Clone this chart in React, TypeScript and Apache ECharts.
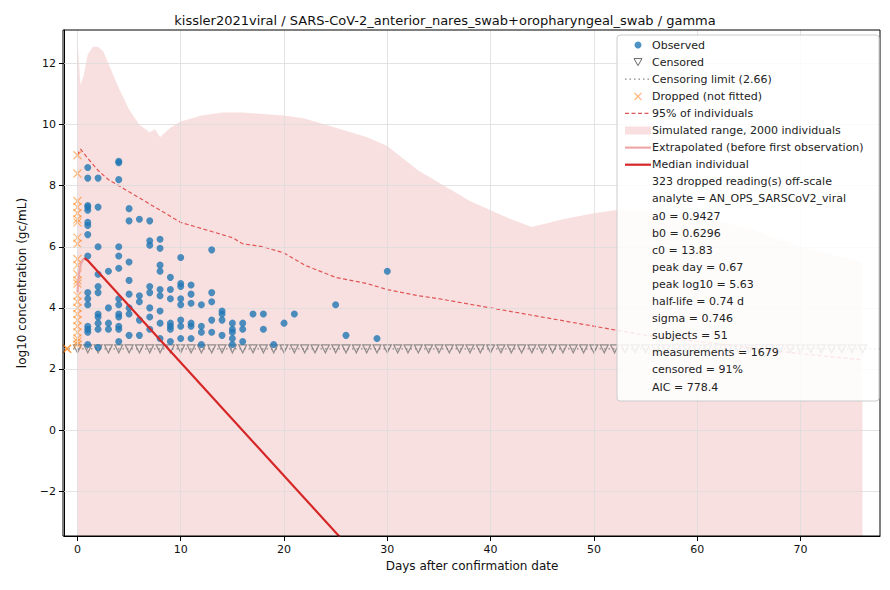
import React, { useEffect, useRef } from "react";
import * as echarts from "echarts";

const obsByDay: [number, number[]][] = [
  [1, [8.6, 8.25, 7.35, 7.3, 7.2, 6.8, 6.7, 6.4, 5.7, 4.5, 4.3, 4.1, 3.4, 3.3, 3.2, 2.8]],
  [2, [8.25, 7.3, 6.0, 5.1, 4.7, 4.5, 3.8, 3.7, 3.5, 3.3, 2.7]],
  [3, [5.2, 4.0, 3.5, 3.3]],
  [4, [8.8, 8.75, 8.2, 6.0, 5.7, 5.3, 4.3, 4.1, 3.8, 3.7, 3.4, 3.3, 2.9]],
  [5, [7.25, 6.85, 5.5, 4.9, 4.45, 4.0, 3.8, 3.1]],
  [6, [6.9, 4.4, 4.2, 3.6, 3.1]],
  [7, [6.85, 6.2, 6.05, 4.7, 4.5, 4.0, 3.7, 3.3]],
  [8, [6.25, 5.95, 5.4, 5.2, 4.6, 4.4, 3.9, 3.5, 3.0]],
  [9, [5.0, 4.6, 4.3, 3.5, 3.4, 3.3, 2.9]],
  [10, [5.65, 4.8, 4.7, 4.3, 4.1, 3.6, 3.4, 3.0]],
  [11, [4.75, 4.45, 4.15, 3.5, 3.4, 3.0]],
  [12, [4.1, 3.4, 3.2, 2.8]],
  [13, [5.9, 4.5, 4.2, 3.6, 3.2]],
  [14, [3.9, 3.8, 3.6, 3.1]],
  [15, [3.5, 3.3, 3.2, 3.0, 2.8]],
  [16, [3.5, 3.3, 2.9]],
  [17, [3.8]],
  [18, [3.8, 3.3]],
  [19, [2.8]],
  [20, [3.5]],
  [21, [3.8]],
  [25, [4.1]],
  [26, [3.1]],
  [29, [3.0]],
  [30, [5.2]],
];
const droppedDay0 = [9.0, 8.4, 7.5, 7.3, 7.1, 6.9, 6.8, 6.3, 6.1, 5.6, 5.4, 5.1, 4.9, 4.8, 4.4, 4.2, 4.0, 3.8, 3.6, 3.4, 3.2, 3.0, 2.9, 2.8];
const droppedOther: [number, number][] = [[-1, 2.66]];
const censorLimit = 2.66;
const censoredDays = Array.from({ length: 77 }, (_, i) => i);
const upperX = [0, 0.3, 0.6, 1, 1.5, 2, 2.5, 3, 4, 5, 6, 7, 7.5, 8, 9, 10, 12, 14, 16, 18, 20, 22, 25, 28, 30, 33, 36, 38, 40, 42, 44, 47, 50, 52, 55, 60, 65, 70, 76];
const upperY = [12.8, 11.3, 11.6, 12.3, 12.55, 12.55, 12.4, 12.0, 11.2, 10.5, 10.0, 9.75, 9.85, 9.6, 9.9, 10.1, 10.3, 10.4, 10.4, 10.35, 10.3, 10.2, 9.9, 9.6, 9.3, 8.5, 7.9, 7.5, 7.2, 6.9, 6.65, 6.9, 7.1, 7.2, 7.2, 7.0, 6.6, 6.0, 5.5];
const p95X = [0, 0.3, 1, 2, 3, 4, 5, 6, 8, 10, 12, 13, 15, 16, 18, 20, 21, 22, 25, 28, 30, 33, 35, 40, 45, 50, 55, 60, 65, 70, 76];
const p95Y = [9.0, 9.2, 8.9, 8.5, 8.2, 8.0, 7.8, 7.6, 7.2, 6.8, 6.6, 6.5, 6.3, 6.1, 6.0, 5.8, 5.6, 5.4, 5.0, 4.8, 4.6, 4.4, 4.3, 4.0, 3.7, 3.4, 3.1, 2.9, 2.7, 2.5, 2.3];
const extrapX = [0, 0.15, 0.35, 0.67];
const extrapY = [4.5, 5.1, 5.45, 5.63];
const medianX = [0.67, 1, 25.4];
const medianY = [5.63, 5.55, -3.5];
const xTicks = [0, 10, 20, 30, 40, 50, 60, 70];
const yTicks = [-2, 0, 2, 4, 6, 8, 10, 12];
const legendItems = ["Observed", "Censored", "Censoring limit (2.66)", "Dropped (not fitted)", "95% of individuals", "Simulated range, 2000 individuals", "Extrapolated (before first observation)", "Median individual"];
const infoLines = ["323 dropped reading(s) off-scale", "analyte = AN_OPS_SARSCoV2_viral", "a0 = 0.9427", "b0 = 0.6296", "c0 = 13.83", "peak day = 0.67", "peak log10 = 5.63", "half-life = 0.74 d", "sigma = 0.746", "subjects = 51", "measurements = 1679", "censored = 91%", "AIC = 778.4"];

const zip = (a: number[], b: number[]) => a.map((v, i) => [v, b[i]]);

export default function App() {
  const ref = useRef<HTMLDivElement>(null);
  useEffect(() => {
    const chart = echarts.init(ref.current!, null, { renderer: "svg" });
    const font = "DejaVu Sans";
    const obs: number[][] = [];
    obsByDay.forEach(([d, vs]) => vs.forEach((v) => obs.push([d, v])));
    const dropped = droppedDay0.map((v) => [0, v]);
    const gl = 55, gt = 22, gr = 2, gb = 46, W = 874, H = 574;
    const lx = 617, ly0 = 37, dy = 17.1;
    const g: any[] = [
      { type: "rect", shape: { x: gl, y: gt, width: W - gl - gr, height: H - gt - gb }, style: { fill: "none", stroke: "#000", lineWidth: 1 }, z: 99, silent: true },
      { type: "rect", shape: { x: 609, y: 27, width: 262, height: 366, r: 3 }, style: { fill: "rgba(255,255,255,0.85)", stroke: "#cccccc", lineWidth: 1 }, z: 100 },
    ];
    const rowY = (i: number) => ly0 + i * dy;
    g.push({ type: "circle", shape: { cx: lx + 13, cy: rowY(0), r: 3.5 }, style: { fill: "#1f77b4", opacity: 0.8 }, z: 101 });
    g.push({ type: "polygon", shape: { points: [[lx + 9, rowY(1) - 3.5], [lx + 17, rowY(1) - 3.5], [lx + 13, rowY(1) + 3.5]] }, style: { fill: "none", stroke: "#666", lineWidth: 1 }, z: 101 });
    g.push({ type: "line", shape: { x1: lx, y1: rowY(2), x2: lx + 26, y2: rowY(2) }, style: { stroke: "#888", lineWidth: 1.2, lineDash: [1.5, 3] }, z: 101 });
    g.push({ type: "text", x: lx + 13, y: rowY(3), style: { text: "×", fill: "#ff7f0e", opacity: 0.6, font: `14px ${font}`, align: "center", verticalAlign: "middle" }, z: 101 });
    g.push({ type: "line", shape: { x1: lx, y1: rowY(4), x2: lx + 26, y2: rowY(4) }, style: { stroke: "#e05555", lineWidth: 1.2, lineDash: [4, 2.5] }, z: 101 });
    g.push({ type: "rect", shape: { x: lx, y: rowY(5) - 4, width: 26, height: 8 }, style: { fill: "#f9dfdf" }, z: 101 });
    g.push({ type: "line", shape: { x1: lx, y1: rowY(6), x2: lx + 26, y2: rowY(6) }, style: { stroke: "#eea7a7", lineWidth: 2.2 }, z: 101 });
    g.push({ type: "line", shape: { x1: lx, y1: rowY(7), x2: lx + 26, y2: rowY(7) }, style: { stroke: "#d62728", lineWidth: 2.2 }, z: 101 });
    legendItems.concat(infoLines).forEach((t, i) => {
      g.push({ type: "text", x: 652 - 8, y: rowY(i), style: { text: t, fill: "#222", font: `11px ${font}`, verticalAlign: "middle" }, z: 101 });
    });
    const gridLines = {
      silent: true, symbol: "none", label: { show: false },
      lineStyle: { color: "#dcdcdc", type: "solid", width: 0.8 },
      data: [...xTicks.map((x) => ({ xAxis: x })), ...yTicks.map((y) => ({ yAxis: y }))],
    };
    chart.setOption({
      animation: false,
      textStyle: { fontFamily: font },
      title: { text: "kissler2021viral / SARS-CoV-2_anterior_nares_swab+oropharyngeal_swab / gamma", left: "center", top: 1, textStyle: { fontSize: 13, fontWeight: "normal", color: "#111", fontFamily: font } },
      grid: { left: gl, right: gr, top: gt, bottom: gb },
      xAxis: {
        type: "value", min: -1.3, max: 77.7, splitLine: { show: false },
        axisLine: { onZero: false, lineStyle: { color: "#000" } },
        axisTick: { customValues: xTicks, lineStyle: { color: "#000" } },
        axisLabel: { customValues: xTicks, color: "#111", fontSize: 11 },
        name: "Days after confirmation date", nameLocation: "middle", nameGap: 24, nameTextStyle: { fontSize: 12, color: "#111" },
      },
      yAxis: {
        type: "value", min: -3.47, max: 13.1, splitLine: { show: false },
        axisLine: { show: true, onZero: false, lineStyle: { color: "#000" } },
        axisTick: { show: true, customValues: yTicks, lineStyle: { color: "#000" } },
        axisLabel: { customValues: yTicks, color: "#111", fontSize: 11, formatter: (v: number) => (v < 0 ? "−" + Math.abs(v) : String(v)) },
        name: "log10 concentration (gc/mL)", nameLocation: "middle", nameGap: 36, nameTextStyle: { fontSize: 12, color: "#111" },
      },
      series: [
        { type: "line", data: zip(upperX, upperY), symbol: "none", lineStyle: { width: 0 }, areaStyle: { color: "#f9e0e0", origin: "start", opacity: 1 }, z: 1 },
        { type: "scatter", data: [[-5, -10]], symbolSize: 0, z: 2, markLine: gridLines },
        { type: "line", data: zip(p95X, p95Y), symbol: "none", lineStyle: { color: "#e05555", width: 1.2, type: [4, 2.5] }, z: 3 },
        { type: "line", data: [[-1.3, censorLimit], [77.7, censorLimit]], symbol: "none", lineStyle: { color: "#888", width: 1.2, type: [1.5, 3] }, z: 3 },
        { type: "scatter", data: censoredDays.map((d) => [d, censorLimit]), symbol: "triangle", symbolRotate: 180, symbolSize: 8, itemStyle: { color: "none", borderColor: "#777", borderWidth: 1.2 }, z: 4 },
        { type: "scatter", data: dropped, symbol: "path://M0,0L10,10M10,0L0,10", symbolSize: 8, itemStyle: { color: "none", borderColor: "#ff7f0e", borderWidth: 1.2, opacity: 0.55 }, z: 4 },
        { type: "scatter", data: droppedOther, symbol: "path://M0,0L10,10M10,0L0,10", symbolSize: 8, itemStyle: { color: "none", borderColor: "#ff7f0e", borderWidth: 1.6 }, z: 4 },
        { type: "scatter", data: obs, symbolSize: 7, itemStyle: { color: "#1f77b4", opacity: 0.8 }, z: 5 },
        { type: "line", data: zip(extrapX, extrapY), symbol: "none", smooth: true, lineStyle: { color: "#eea7a7", width: 2.2 }, z: 6 },
        { type: "line", data: zip(medianX, medianY), symbol: "none", lineStyle: { color: "#d62728", width: 2.2 }, z: 6 },
      ],
      graphic: g,
    });
    return () => chart.dispose();
  }, []);
  return <div ref={ref} style={{ width: 874, height: 574 }} />;
}
